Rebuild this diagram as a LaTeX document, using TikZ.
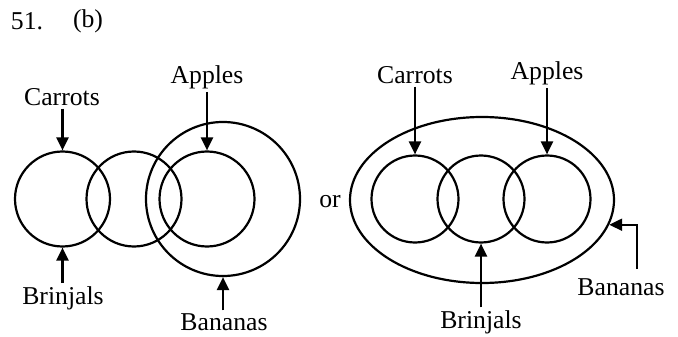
\documentclass[tikz,border=0pt]{standalone}
\usepackage{fontspec}
\setmainfont{Liberation Serif}
\usetikzlibrary{arrows.meta,shapes.geometric}

\begin{document}
\begin{tikzpicture}[x=1pt,y=-1pt,line width=2.2pt,
  set/.style={circle,draw,inner sep=0pt,minimum size=#1},
  lbl/.style={font=\fontsize{25.7}{30}\selectfont,inner sep=2pt},
  arr/.style={-{Triangle[width=12pt,length=13pt]}}]
\useasboundingbox (0,0) rectangle (678,337);
\node[lbl] (num) at (27,21) {51.};
\node[lbl] (part) at (88,21) {(b)};
% first diagram
\node[set=95pt] (c1) at (62.5,199) {};
\node[set=95pt] (c2) at (134,199) {};
\node[set=95pt] (c3) at (207,199) {};
\node[set=154pt] (ban) at (223,199) {};
\node[lbl] (carT) at (62,97) {Carrots};
\node[lbl] (appT) at (207,77) {Apples};
\node[lbl] (briT) at (63,298) {Brinjals};
\node[lbl] (banT) at (224,322) {Bananas};
\draw[arr] (carT.south -| c1.north) -- (c1.north);
\draw[arr] (appT.south -| c3.north) -- (c3.north);
\draw[arr] (briT.north -| c1.south) -- (c1.south);
\draw[arr] (banT.north -| ban.south) -- (ban.south);
\node[lbl] (or) at (330,202) {or};
% second diagram
\node[ellipse,draw,inner sep=0pt,minimum width=264pt,minimum height=166pt] (ell) at (482,200) {};
\node[set=87pt] (d1) at (415,199) {};
\node[set=87pt] (d2) at (481,199) {};
\node[set=87pt] (d3) at (547,199) {};
\node[lbl] (carR) at (415,75) {Carrots};
\node[lbl] (appR) at (547,73) {Apples};
\node[lbl] (briR) at (481,322) {Brinjals};
\node[lbl] (banR) at (621,287) {Bananas};
\coordinate (bend) at (637,269);
\draw[arr] (carR.south -| d1.north) -- (d1.north);
\draw[arr] (appR.south -| d3.north) -- (d3.north);
\draw[arr] (briR.north -| d2.south) -- (d2.south);
\draw[arr] (bend) |- (ell.-11);
\end{tikzpicture}
\end{document}
